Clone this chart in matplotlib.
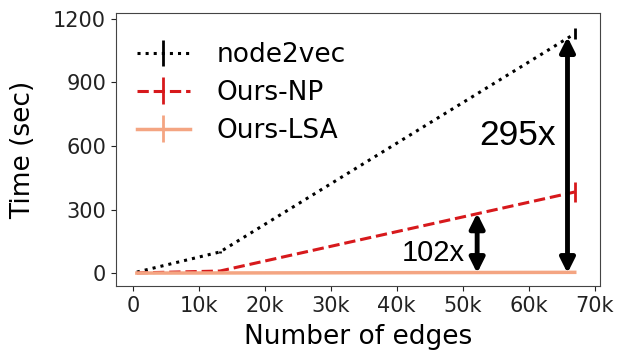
import matplotlib
matplotlib.use("Agg")
import matplotlib.pyplot as plt

# Runtime vs. graph size
edges = [600, 13200, 67000]
node2vec_time = [5, 100, 1130]
node2vec_err = [1, 3, 26]
np_time = [1, 10, 383]
np_err = [0.5, 1, 45]
lsa_time = [0.3, 0.8, 3.8]
lsa_err = [0.1, 0.2, 0.5]

xticks = [0, 10000, 20000, 30000, 40000, 50000, 60000, 70000]
xticklabels = ["0", "10k", "20k", "30k", "40k", "50k", "60k", "70k"]
yticks = [0, 300, 600, 900, 1200]

fig = plt.figure(figsize=(6.19, 3.51), dpi=100)
ax = fig.add_axes([0.187, 0.185, 0.782, 0.778])

ax.errorbar(edges, node2vec_time, yerr=node2vec_err, color="black", ls=":",
            lw=2.2, elinewidth=2, label="node2vec")
ax.errorbar(edges, np_time, yerr=np_err, color="#d7191c", ls="--",
            lw=2.2, elinewidth=2, label="Ours-NP")
ax.errorbar(edges, lsa_time, yerr=lsa_err, color="#f4a582", ls="-",
            lw=2.5, elinewidth=2, label="Ours-LSA")

# Speed-up arrows
arrow_kw = dict(arrowstyle="<|-|>", color="black", lw=3.5,
                mutation_scale=22, shrinkA=0, shrinkB=0)
ax.annotate("", xy=(65900, 1115), xytext=(65900, 0), arrowprops=arrow_kw)
ax.annotate("", xy=(52200, 283), xytext=(52200, 0), arrowprops=arrow_kw)
ax.text(64200, 652, "295x", fontsize=25.5, family="Liberation Sans",
        ha="right", va="center")
ax.text(50400, 95, "102x", fontsize=21, family="Liberation Sans",
        ha="right", va="center")

ax.set_xlim(-2600, 70800)
ax.set_ylim(-61, 1228)
ax.set_xticks(xticks)
ax.set_xticklabels(xticklabels)
ax.set_yticks(yticks)
ax.tick_params(labelsize=15, colors="#222222")
for s in ax.spines.values():
    s.set_color("#444444")

ax.set_xlabel("Number of edges", fontsize=19, labelpad=6)
ax.set_ylabel("Time (sec)", fontsize=19, labelpad=12)

ax.legend(loc="upper left", bbox_to_anchor=(-0.016, 1.0), frameon=False,
          fontsize=19, handlelength=2, borderaxespad=0.7, labelspacing=0.45,
          handletextpad=1.0)

fig.savefig("out.png", dpi=100)
